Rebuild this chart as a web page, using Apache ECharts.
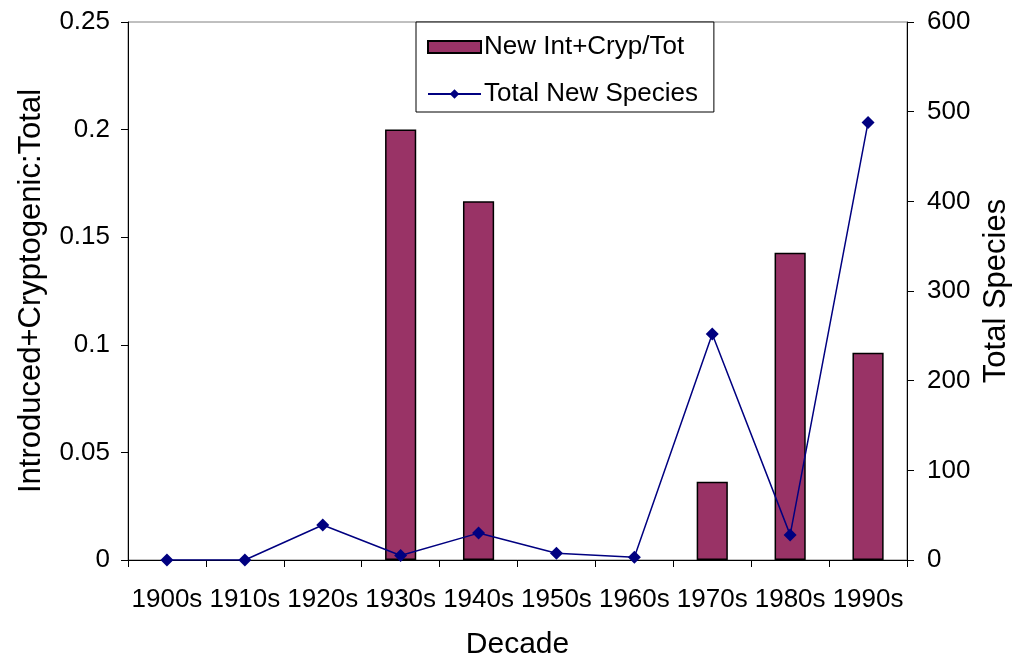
<!DOCTYPE html>
<html>
<head>
<meta charset="utf-8">
<script src="https://cdn.jsdelivr.net/npm/echarts@6/dist/echarts.min.js"></script>
<style>
  html, body { margin: 0; padding: 0; background: #fff; }
  #chart { width: 1014px; height: 660px; }
</style>
</head>
<body>
<div id="chart"></div>
<script>
const decades = ['1900s', '1910s', '1920s', '1930s', '1940s', '1950s', '1960s', '1970s', '1980s', '1990s']
// ratio of introduced + cryptogenic to total new species (left axis)
const ratioValues = [null, null, null, 0.2, 0.1667, null, null, 0.0364, 0.1428, 0.0963]
// total new species per decade (right axis)
const totalSpecies = [0, 0, 39, 5, 30, 7.5, 3, 252, 28, 488]

const font = 'Liberation Sans, Arial, sans-serif'
const chart = echarts.init(document.getElementById('chart'))

chart.setOption({
    backgroundColor: '#fff',
    animation: false,
    textStyle: { fontFamily: font },
    grid: {
        left: 128, right: 107, top: 22, bottom: 100,
        outerBoundsMode: 'none',
        containLabel: false,
        show: true, borderColor: '#808080', borderWidth: 1
    },
    legend: {
        orient: 'vertical',
        left: 416, top: 22,
        padding: [12, 16, 5, 11],
        itemGap: 21,
        itemWidth: 53,
        itemHeight: 12,
        borderColor: '#000', borderWidth: 1,
        backgroundColor: '#fff',
        textStyle: { fontSize: 26, color: '#000', fontFamily: font, padding: [0, 0, 0, -2] },
        data: [{ name: 'New Int+Cryp/Tot', icon: 'rect' }, 'Total New Species']
    },
    xAxis: {
        type: 'category',
        data: decades,
        name: 'Decade',
        nameLocation: 'middle',
        nameGap: 70,
        nameTextStyle: { fontSize: 30, color: '#000' },
        axisLine: { lineStyle: { color: '#000', width: 1 } },
        axisTick: { show: true, length: 7, lineStyle: { color: '#000' } },
        axisLabel: { fontSize: 26, color: '#000', margin: 27, interval: 0 }
    },
    yAxis: [
        {
            type: 'value',
            min: 0, max: 0.25, interval: 0.05,
            name: 'Introduced+Cryptogenic:Total',
            nameLocation: 'middle',
            nameGap: 81,
            nameTextStyle: { fontSize: 31, color: '#000' },
            axisLine: { show: true, lineStyle: { color: '#000' } },
            axisTick: { show: true, length: 7, lineStyle: { color: '#000' } },
            axisLabel: { fontSize: 26, color: '#000', margin: 18 },
            splitLine: { show: false }
        },
        {
            type: 'value',
            min: 0, max: 600, interval: 100,
            name: 'Total Species',
            nameLocation: 'middle',
            nameGap: 74,
            nameTextStyle: { fontSize: 31, color: '#000' },
            axisLine: { show: true, lineStyle: { color: '#000' } },
            axisTick: { show: true, length: 7, lineStyle: { color: '#000' } },
            axisLabel: { fontSize: 26, color: '#000', margin: 20 },
            splitLine: { show: false }
        }
    ],
    series: [
        {
            name: 'New Int+Cryp/Tot',
            type: 'bar',
            yAxisIndex: 0,
            data: ratioValues,
            barWidth: '40%',
            itemStyle: { color: '#993366', borderColor: '#000', borderWidth: 1.5 }
        },
        {
            name: 'Total New Species',
            type: 'line',
            yAxisIndex: 1,
            data: totalSpecies,
            symbol: 'diamond',
            symbolSize: 13,
            lineStyle: { color: '#000080', width: 1.5 },
            itemStyle: { color: '#000080' }
        }
    ]
})
</script>
</body>
</html>
